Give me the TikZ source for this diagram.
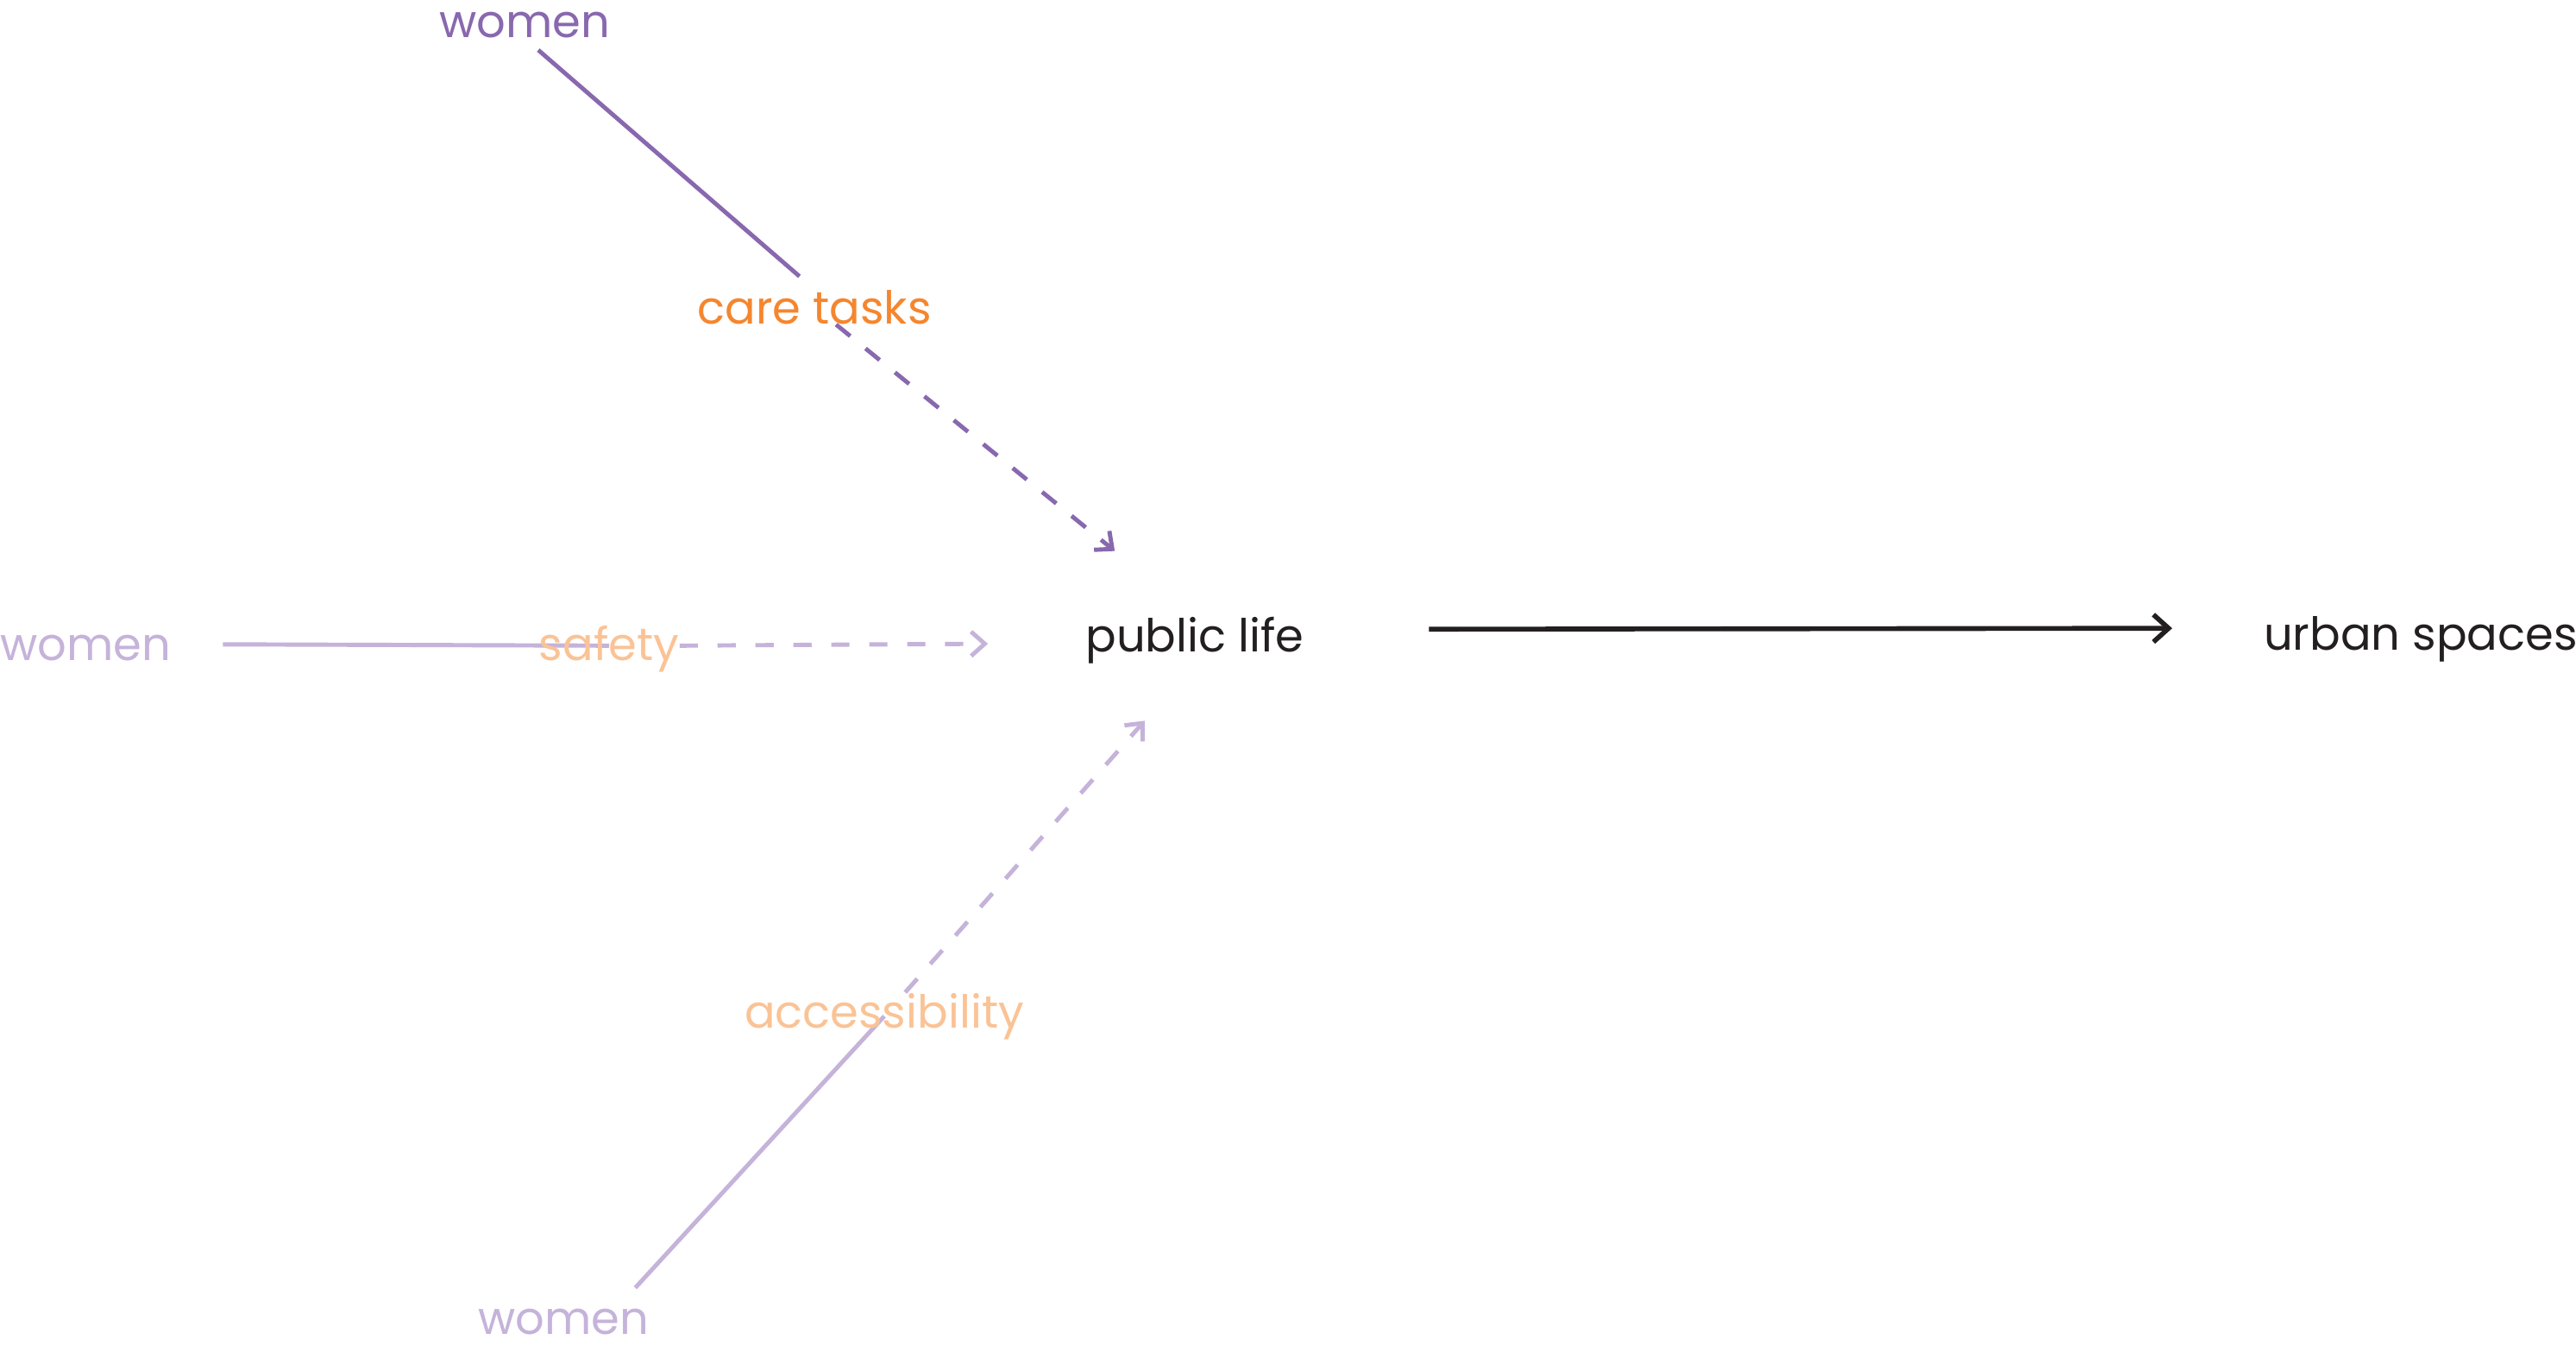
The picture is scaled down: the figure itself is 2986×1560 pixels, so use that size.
\documentclass[tikz,border=0pt]{standalone}
\usepackage{fontspec}
\setmainfont{Poppins}
\usetikzlibrary{arrows.meta,backgrounds}

\definecolor{plum}{HTML}{8868AE}
\definecolor{lilac}{HTML}{C5B3DA}
\definecolor{carrot}{HTML}{F5862E}
\definecolor{peach}{HTML}{FAC396}
\definecolor{ink}{HTML}{231F20}

\begin{document}
\begin{tikzpicture}[x=0.01cm, y=-0.01cm, >={Straight Barb[length=4.5pt,width=8pt]},
    lbl/.style={inner sep=0pt, anchor=base, font=\fontsize{15}{18}\selectfont},
    link/.style={line width=1.4pt},
    dlink/.style={link, dash pattern=on 6pt off 6.5pt}]
  \useasboundingbox (0,0) rectangle (2986,1560);

  % labels
  \node[lbl, text=plum] (w1) at (608,43) {women};
  \node[lbl, text=carrot] (care) at (944,375) {care tasks};
  \node[lbl, text=lilac] (w2) at (99,765) {women};
  \node[lbl, text=peach] (safety) at (706,765) {safety};
  \node[lbl, text=lilac] (w3) at (653,1546) {women};
  \node[lbl, text=peach] (access) at (1025,1191) {accessibility};
  \node[lbl, text=ink] (pl) at (1385,755) {public life};
  \node[lbl, text=ink] (urban) at (2806,753) {urban spaces};

  \begin{scope}[on background layer]
    % care tasks
    \draw[link, plum, shorten <=6pt, shorten >=6.5pt] (w1.south) -- (care.north);
    \draw[dlink, plum, ->, shorten >=34pt] (care) -- (pl.north);
    % safety
    \draw[link, lilac, shorten <=17pt] ([yshift=2.5pt]w2.mid east) -- ([yshift=2pt]safety.mid);
    \draw[dlink, lilac, ->, shorten >=32pt] ([yshift=2pt]safety.mid east) -- (pl.mid west);
    % accessibility
    \draw[link, lilac, shorten <=9pt] ([xshift=0.62cm]w3.north) -- (access.center);
    \draw[dlink, lilac, ->, shorten >=25pt] (access) -- (pl.south);
  \end{scope}

  \draw[ink, line width=1.6pt, ->, >={Straight Barb[length=5pt,width=9pt]},
    shorten <=41pt, shorten >=30pt] ([yshift=3.5pt]pl.east) -- ([yshift=3.5pt]urban.west);
\end{tikzpicture}
\end{document}
